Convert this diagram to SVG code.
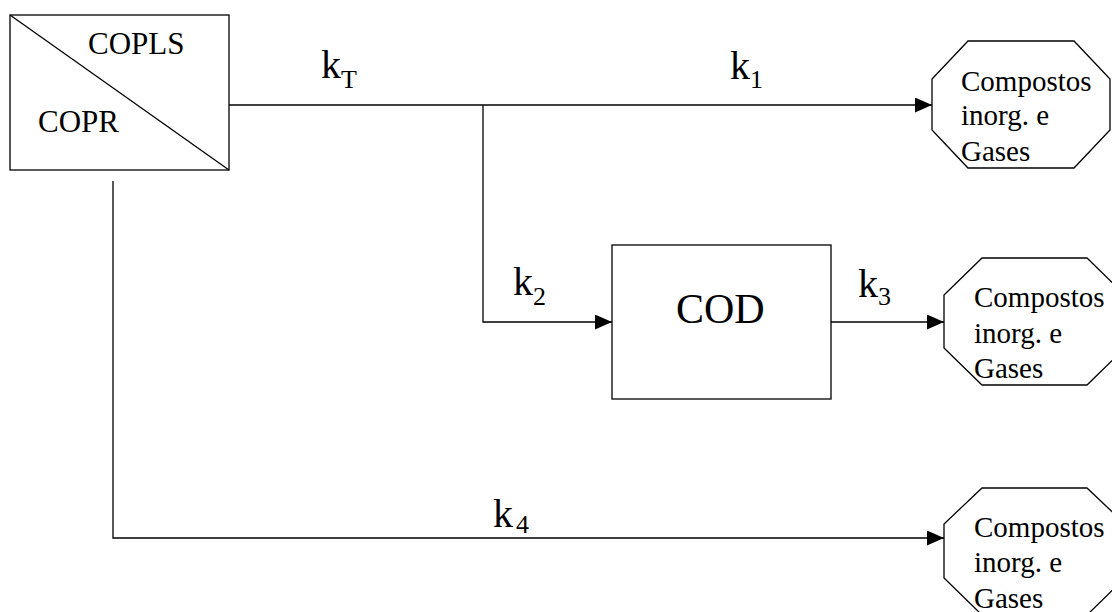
<svg xmlns="http://www.w3.org/2000/svg" width="1112" height="612" viewBox="0 0 1112 612">
<defs>
<style>
.ln{fill:none;stroke:#000;stroke-width:1.3}
.shape{fill:#fff;stroke:#000;stroke-width:1.3}
text{font-family:"Liberation Serif","Times New Roman",serif;fill:#000}
.k{font-size:40px}
.sub{font-size:26px}
.lbl{font-size:31px}
.oct{font-size:29px}
</style>
<marker id="arr" markerWidth="17" markerHeight="15" refX="17" refY="7.5" orient="auto" markerUnits="userSpaceOnUse">
<path d="M0,0 L17,7.5 L0,15 Z" fill="#000"/>
</marker>
</defs>
<rect width="1112" height="612" fill="#fff"/>
<g id="connectors">
<path class="ln" d="M229,105 H932" marker-end="url(#arr)"/>
<path class="ln" d="M483,105 V322 H612" marker-end="url(#arr)"/>
<path class="ln" d="M831,322 H944" marker-end="url(#arr)"/>
<path class="ln" d="M113,181 V538 H944" marker-end="url(#arr)"/>
<text class="k" x="321" y="78">k<tspan class="sub" dy="10">T</tspan></text>
<text class="k" x="730" y="79">k<tspan class="sub" dy="9">1</tspan></text>
<text class="k" x="513" y="295">k<tspan class="sub" dy="10">2</tspan></text>
<text class="k" x="858" y="297">k<tspan class="sub" dy="8">3</tspan></text>
<text class="k" x="493" y="527">k<tspan class="sub" dx="3" dy="6">4</tspan></text>
</g>
<g id="copr">
<rect class="shape" x="10" y="15" width="219" height="155"/>
<line class="ln" x1="10" y1="15" x2="229" y2="170"/>
<text class="lbl" x="88" y="54">COPLS</text>
<text class="lbl" x="38" y="132">COPR</text>
</g>
<g id="cod">
<rect class="shape" x="612" y="245" width="219" height="154"/>
<text font-size="42" x="676" y="323">COD</text>
</g>
<g id="out1">
<polygon class="shape" points="968,41 1074,41 1110,79 1110,130 1074,168 968,168 932,130 932,79"/>
<text class="oct" x="961" y="91">Compostos</text>
<text class="oct" x="961" y="125">inorg. e</text>
<text class="oct" x="961" y="161">Gases</text>
</g>
<g id="out2">
<polygon class="shape" points="982,258 1087,258 1125,295 1125,348 1087,385 982,385 944,348 944,295"/>
<text class="oct" x="974" y="307">Compostos</text>
<text class="oct" x="974" y="343">inorg. e</text>
<text class="oct" x="974" y="378">Gases</text>
</g>
<g id="out3">
<polygon class="shape" points="982,488 1087,488 1125,524 1125,578 1087,615 982,615 944,578 944,524"/>
<text class="oct" x="974" y="537">Compostos</text>
<text class="oct" x="974" y="572">inorg. e</text>
<text class="oct" x="974" y="608">Gases</text>
</g>
</svg>
